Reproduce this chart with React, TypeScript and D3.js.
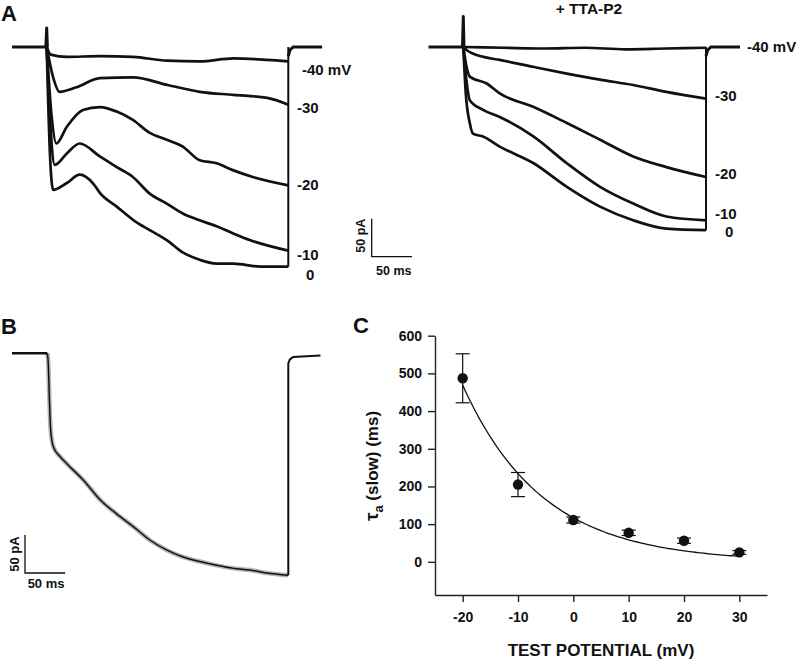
import React, { useEffect, useRef } from "react";
import * as d3 from "d3";

type Pt = [number, number];

// ---------- DATA (time in ms, current in pA) ----------
const STEP_MS = 300;
const ctlLabels = ["-40 mV", "-30", "-20", "-10", "0"];
const ttaLabels = ["-40 mV", "-30", "-20", "-10", "0"];

const ctlM40: Pt[] = [[0, 0], [5, -10], [25, -13], [66, -12], [107, -13], [149, -18], [190, -19], [232, -15], [274, -17], [300, -19]];
const ctlM30: Pt[] = [[0, 0], [8, -40], [16, -59], [37, -53], [66, -41], [107, -40], [150, -50], [190, -59], [232, -63], [274, -67], [300, -76]];
const ctlM20: Pt[] = [[0, 0], [6, -90], [12, -127], [25, -105], [45, -83], [66, -79], [87, -85], [107, -96], [128, -113], [149, -122], [169, -131], [190, -149], [211, -153], [231, -162], [256, -171], [300, -182]];
const ctlM10: Pt[] = [[0, 0], [5, -110], [10, -155], [25, -140], [41, -127], [66, -144], [87, -158], [107, -171], [128, -193], [149, -206], [169, -219], [190, -228], [211, -236], [231, -245], [252, -254], [300, -268]];
const ctl0: Pt[] = [[0, 0], [4, -140], [8, -188], [25, -179], [41, -168], [58, -180], [66, -192], [87, -210], [108, -228], [128, -241], [149, -254], [170, -271], [190, -280], [211, -285], [232, -285], [265, -289], [300, -289]];
const ctlTraces = [ctlM40, ctlM30, ctlM20, ctlM10, ctl0];

const ttaM40: Pt[] = [[0, 0], [50, -1], [100, -2], [150, -1], [200, -3], [250, -2], [300, -1]];
const ttaM30: Pt[] = [[0, 0], [4, -4], [25, -13], [45, -17], [86, -26], [128, -35], [169, -43], [210, -50], [251, -59], [300, -68]];
const ttaM20: Pt[] = [[0, 0], [4, -26], [8, -39], [29, -48], [45, -61], [87, -79], [128, -100], [169, -122], [210, -144], [251, -158], [300, -171]];
const ttaM10: Pt[] = [[0, 0], [4, -45], [8, -70], [25, -83], [45, -92], [87, -118], [128, -153], [169, -184], [210, -206], [251, -223], [300, -228]];
const tta0: Pt[] = [[0, 0], [3, -60], [8, -100], [12, -114], [25, -118], [45, -131], [87, -153], [128, -184], [169, -210], [210, -228], [251, -239], [300, -241]];
const ttaTraces = [ttaM40, ttaM30, ttaM20, ttaM10, tta0];

const ctlPre: Pt[] = [[-43, 0], [-1, 0], [0, 25], [0.8, 0]];
const ttaPre: Pt[] = [[-43, 0], [-1, 0], [0, 40], [0.8, 0]];
const aPost: Pt[] = [[300, -12], [302, -4], [306, 0], [342, 0]];

const bTrace: Pt[] = [[0, 0], [1.2, -13], [2.5, -57], [4.2, -101], [7.5, -123], [16, -136], [24, -145], [45, -167], [66, -193], [86, -211], [107, -228], [128, -246], [149, -259], [169, -268], [190, -274], [211, -279], [232, -283], [252, -285], [273, -289], [300, -292]];
const bPre: Pt[] = [[-44, 0], [0, 0]];
const bPost: Pt[] = [[300, -292], [300, -13], [302, -8], [306, -5], [340, -3]];

// Panel C
const cPotentials = [-20, -10, 0, 10, 20, 30];
const cTau = [487, 205, 111, 77, 56, 25];
const cErr = [65, 32, 8, 7, 7, 5];
const cFitAmp = 469; // tau at -20 mV
const cFitK = 14.4; // mV
const cYTicks = [0, 100, 200, 300, 400, 500, 600];
const cXTicks = [-20, -10, 0, 10, 20, 30];

const FONT = "'Liberation Sans', Arial, Helvetica, sans-serif";

export default function App() {
  const xAxisRef = useRef<SVGGElement>(null);
  const yAxisRef = useRef<SVGGElement>(null);

  // Scales
  const xA1 = d3.scaleLinear().domain([0, STEP_MS]).range([46.7, 288.3]);
  const xA2 = d3.scaleLinear().domain([0, STEP_MS]).range([463.3, 706]);
  const yA = d3.scaleLinear().domain([0, -50]).range([47, 85]);
  const xB = d3.scaleLinear().domain([0, STEP_MS]).range([47.3, 288.3]);
  const yB = d3.scaleLinear().domain([0, -50]).range([353.3, 391.3]);

  const xC = d3.scaleLinear().domain([-25, 35]).range([435, 767]);
  const yC = d3.scaleLinear().domain([-88, 600]).range([595, 335.7]);

  const smooth = (xs: d3.ScaleLinear<number, number>, ys: d3.ScaleLinear<number, number>) =>
    d3.line<Pt>().x((d) => xs(d[0])).y((d) => ys(d[1])).curve(d3.curveMonotoneX);
  const straight = (xs: d3.ScaleLinear<number, number>, ys: d3.ScaleLinear<number, number>) =>
    d3.line<Pt>().x((d) => xs(d[0])).y((d) => ys(d[1]));

  const fitPts: Pt[] = d3.range(-20, 30.01, 0.5).map((v) => [v, cFitAmp * Math.exp(-(v + 20) / cFitK)]);
  const fitLine = d3.line<Pt>().x((d) => xC(d[0])).y((d) => yC(d[1]));

  useEffect(() => {
    const fmt = (d: any) => String(d);
    if (xAxisRef.current) {
      const g = d3.select(xAxisRef.current);
      g.call(d3.axisBottom(xC).tickValues(cXTicks).tickSize(7).tickSizeOuter(0).tickPadding(10).tickFormat(fmt) as any);
      g.selectAll("path,line").attr("stroke", "#222").attr("stroke-width", 1.4);
      g.selectAll("text").attr("font-family", FONT).attr("font-weight", "bold").attr("font-size", 14).attr("fill", "#111");
    }
    if (yAxisRef.current) {
      const g = d3.select(yAxisRef.current);
      g.call(d3.axisLeft(yC).tickValues(cYTicks).tickSize(7).tickSizeOuter(0).tickPadding(6).tickFormat(fmt) as any);
      g.selectAll("path,line").attr("stroke", "#222").attr("stroke-width", 1.4);
      g.selectAll("text").attr("font-family", FONT).attr("font-weight", "bold").attr("font-size", 14).attr("fill", "#111");
    }
  }, []);

  const ctlLabelPos: Pt[] = [[302, 70], [297, 108], [297, 185], [297, 255], [306, 275]];
  const ttaLabelPos: Pt[] = [[747, 47], [715, 96], [715, 174], [715, 214], [725, 232]];

  const traceW = 2.7;
  const ink = "#111";

  const renderPanelA = (
    traces: Pt[][],
    pre: Pt[],
    xs: d3.ScaleLinear<number, number>,
    labels: string[],
    pos: Pt[]
  ) => {
    const minEnd = d3.min(traces, (t) => t[t.length - 1][1]) as number;
    return (
      <g>
        <path d={straight(xs, yA)(pre) || ""} fill="none" stroke={ink} strokeWidth={3} strokeLinejoin="round" />
        {traces.map((t, i) => (
          <path key={i} d={smooth(xs, yA)(t) || ""} fill="none" stroke={ink} strokeWidth={traceW} strokeLinejoin="round" />
        ))}
        <line x1={xs(STEP_MS)} x2={xs(STEP_MS)} y1={yA(minEnd)} y2={yA(0)} stroke={ink} strokeWidth={2} />
        <path d={straight(xs, yA)(aPost) || ""} fill="none" stroke={ink} strokeWidth={3} />
        {labels.map((l, i) => (
          <text key={l + i} x={pos[i][0]} y={pos[i][1]} dy="0.36em" fontFamily={FONT} fontWeight="bold" fontSize={15} fill={ink}>
            {l}
          </text>
        ))}
      </g>
    );
  };

  // scale bars
  const aBarX = 371.7;
  const aBarY = 256.7;
  const aBarW = xA1(50) - xA1(0);
  const aBarH = yA(-50) - yA(0);
  const bBarX = 25;
  const bBarY = 573;
  const bBarW = xB(50) - xB(0);
  const bBarH = yB(-50) - yB(0);

  return (
    <svg width={799} height={659} style={{ position: "absolute", left: 0, top: 0, background: "#fff" }}>
      <rect width={799} height={659} fill="#fff" />
      {/* Panel labels */}
      <text x={1} y={21} fontFamily={FONT} fontWeight="bold" fontSize={22} fill={ink}>A</text>
      <text x={1} y={334} fontFamily={FONT} fontWeight="bold" fontSize={22} fill={ink}>B</text>
      <text x={353} y={333} fontFamily={FONT} fontWeight="bold" fontSize={22} fill={ink}>C</text>

      {/* Panel A */}
      {renderPanelA(ctlTraces, ctlPre, xA1, ctlLabels, ctlLabelPos)}
      {renderPanelA(ttaTraces, ttaPre, xA2, ttaLabels, ttaLabelPos)}
      <text x={589} y={14} textAnchor="middle" fontFamily={FONT} fontWeight="bold" fontSize={15.5} fill={ink}>+ TTA-P2</text>

      {/* A scale bar */}
      <path d={`M${aBarX},${aBarY - aBarH}V${aBarY}H${aBarX + aBarW}`} fill="none" stroke={ink} strokeWidth={1.3} />
      <text x={aBarX + aBarW / 2 + 2} y={aBarY + 18} textAnchor="middle" fontFamily={FONT} fontWeight="bold" fontSize={12.5} fill={ink}>50 ms</text>
      <text transform={`translate(${aBarX - 7},${aBarY - aBarH / 2 - 2}) rotate(-90)`} textAnchor="middle" fontFamily={FONT} fontWeight="bold" fontSize={12.5} fill={ink}>50 pA</text>

      {/* Panel B */}
      <path d={smooth(xB, yB)(bTrace) || ""} fill="none" stroke="#b4b4b4" strokeWidth={4.5} strokeLinejoin="round" />
      <path d={straight(xB, yB)(bPre) || ""} fill="none" stroke={ink} strokeWidth={2.5} />
      <path d={smooth(xB, yB)(bTrace) || ""} fill="none" stroke={ink} strokeWidth={1.5} strokeLinejoin="round" />
      <path d={straight(xB, yB)(bPost) || ""} fill="none" stroke={ink} strokeWidth={2} />
      <path d={`M${bBarX},${bBarY - bBarH}V${bBarY}H${bBarX + bBarW}`} fill="none" stroke={ink} strokeWidth={1.3} />
      <text x={bBarX + bBarW / 2 + 1} y={bBarY + 15} textAnchor="middle" fontFamily={FONT} fontWeight="bold" fontSize={13} fill={ink}>50 ms</text>
      <text transform={`translate(${bBarX - 6},${bBarY - bBarH / 2}) rotate(-90)`} textAnchor="middle" fontFamily={FONT} fontWeight="bold" fontSize={13} fill={ink}>50 pA</text>

      {/* Panel C */}
      <g ref={xAxisRef} transform={`translate(0,${yC(-88)})`} />
      <g ref={yAxisRef} transform={`translate(${xC(-25)},0)`} />
      <path d={fitLine(fitPts) || ""} fill="none" stroke={ink} strokeWidth={1.3} />
      {cPotentials.map((v, i) => (
        <g key={v}>
          <line x1={xC(v)} x2={xC(v)} y1={yC(cTau[i] + cErr[i])} y2={yC(cTau[i] - cErr[i])} stroke={ink} strokeWidth={1.2} />
          <line x1={xC(v) - 7} x2={xC(v) + 7} y1={yC(cTau[i] + cErr[i])} y2={yC(cTau[i] + cErr[i])} stroke={ink} strokeWidth={1.2} />
          <line x1={xC(v) - 7} x2={xC(v) + 7} y1={yC(cTau[i] - cErr[i])} y2={yC(cTau[i] - cErr[i])} stroke={ink} strokeWidth={1.2} />
          <circle cx={xC(v)} cy={yC(cTau[i])} r={5.2} fill={ink} />
        </g>
      ))}
      <text x={601} y={656} textAnchor="middle" fontFamily={FONT} fontWeight="bold" fontSize={17} fill={ink}>TEST POTENTIAL (mV)</text>
      <text transform={`translate(378,466) rotate(-90)`} textAnchor="middle" fontFamily={FONT} fontWeight="bold" fontSize={17} fill={ink}>
        <tspan fontSize={19}>τ</tspan>
        <tspan dy={5} fontSize={13}>a</tspan>
        <tspan dy={-5}> (slow) (ms)</tspan>
      </text>
    </svg>
  );
}
